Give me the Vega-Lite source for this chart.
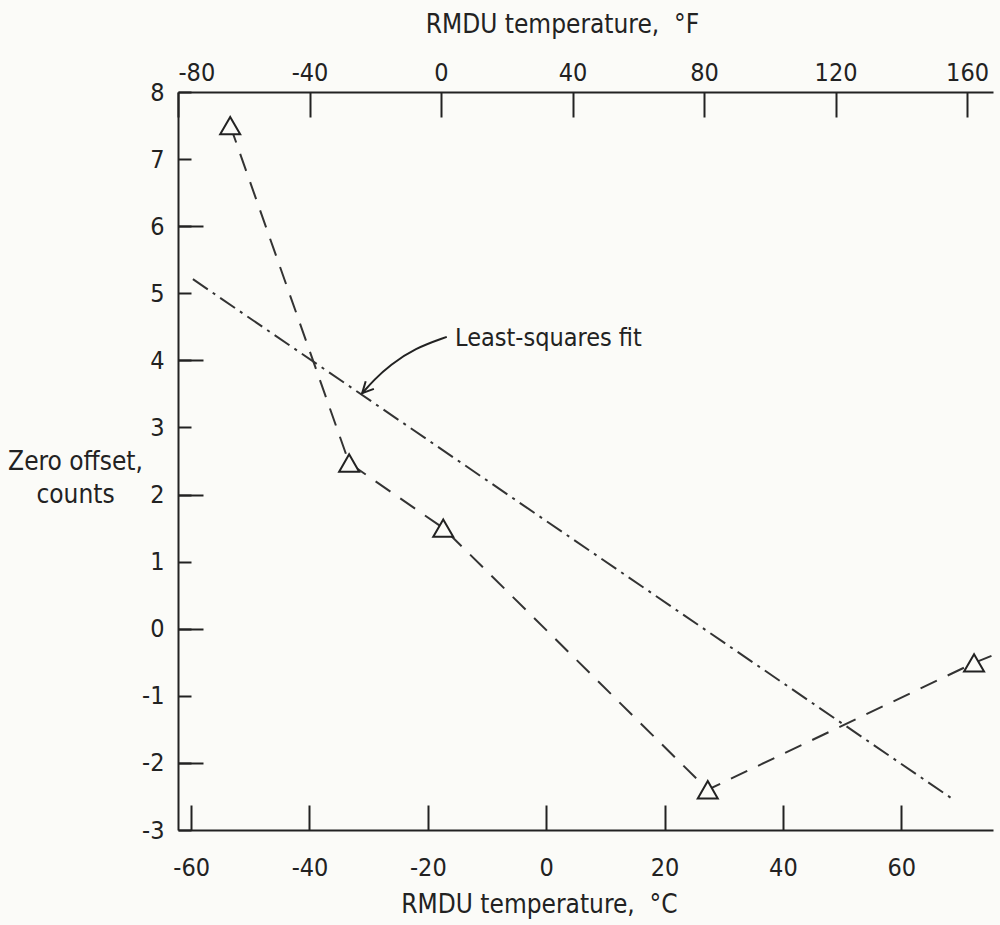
{
  "$schema": "https://vega.github.io/schema/vega-lite/v6.json",
  "width": 815,
  "height": 738,
  "autosize": {"type": "none"},
  "padding": {"left": 178, "top": 92, "right": 7, "bottom": 95},
  "background": "#fbfbf8",
  "config": {
    "view": {"stroke": null},
    "axis": {
      "grid": false,
      "domainColor": "#222",
      "domainWidth": 2,
      "tickColor": "#222",
      "tickWidth": 2,
      "labelFont": "DejaVu Sans Condensed, Liberation Sans Narrow, sans-serif",
      "labelFontSize": 25,
      "labelColor": "#222",
      "titleFont": "DejaVu Sans Condensed, Liberation Sans Narrow, sans-serif",
      "titleFontSize": 26,
      "titleColor": "#222",
      "titleFontWeight": "normal"
    }
  },
  "datasets": {
    "obs": [
      {"C": -53.4, "Z": 7.5},
      {"C": -33.3, "Z": 2.47},
      {"C": -17.4, "Z": 1.5},
      {"C": 27.3, "Z": -2.4},
      {"C": 72.3, "Z": -0.51}
    ],
    "obsline": [
      {"C": -53.4, "Z": 7.5},
      {"C": -33.3, "Z": 2.47},
      {"C": -17.4, "Z": 1.5},
      {"C": 27.3, "Z": -2.4},
      {"C": 72.3, "Z": -0.51},
      {"C": 75.4, "Z": -0.4}
    ],
    "fit": [
      {"C": -59.7, "Z": 5.21},
      {"C": 68.7, "Z": -2.54}
    ],
    "arrow": [
      {"C": -16.8, "Z": 4.35},
      {"C": -22.2, "Z": 4.18},
      {"C": -26.4, "Z": 3.93},
      {"C": -29.1, "Z": 3.71},
      {"C": -31.1, "Z": 3.51}
    ],
    "tip": [{"C": -31.1, "Z": 3.51}],
    "note": [{"C": -15.4, "Z": 4.33, "label": "Least-squares fit"}],
    "ftop": [{"F": -80, "Z": -3}, {"F": 160, "Z": 8}]
  },
  "layer": [
    {
      "layer": [
        {
          "data": {"name": "fit"},
          "mark": {"type": "line", "strokeDash": [18, 6, 3, 6], "color": "#333", "strokeWidth": 2},
          "encoding": {
            "x": {
              "field": "C", "type": "quantitative",
              "scale": {"domain": [-62.22, 75.5], "nice": false, "zero": false},
              "axis": {
                "orient": "bottom",
                "values": [-60, -40, -20, 0, 20, 40, 60],
                "tickSize": -25,
                "labelPadding": 50,
                "labelExpr": "'' + datum.value",
                "title": "RMDU temperature,\u00a0\u00a0°C",
                "titleX": 361,
                "titleY": 82,
                "titleAlign": "center",
                "titleBaseline": "alphabetic"
              }
            },
            "y": {
              "field": "Z", "type": "quantitative",
              "scale": {"domain": [-3, 8], "nice": false, "zero": false},
              "axis": {
                "orient": "left",
                "values": [-3, -2, -1, 0, 1, 2, 3, 4, 5, 6, 7, 8],
                "tickSize": -13,
                "labelPadding": 27,
                "labelExpr": "'' + datum.value",
                "title": ["Zero offset,", "counts"],
                "titleAngle": 0,
                "titleAlign": "center",
                "titleBaseline": "middle",
                "titleX": -103,
                "titleY": 369,
                "titleLineHeight": 33
              }
            }
          }
        },
        {
          "data": {"name": "obsline"},
          "mark": {"type": "line", "strokeDash": [18, 12], "color": "#333", "strokeWidth": 2},
          "encoding": {
            "x": {"field": "C", "type": "quantitative"},
            "y": {"field": "Z", "type": "quantitative"}
          }
        },
        {
          "data": {"name": "obs"},
          "mark": {"type": "point", "shape": "triangle-up", "size": 400, "fill": "#fbfbf8", "stroke": "#222", "strokeWidth": 2, "opacity": 1, "filled": true},
          "encoding": {
            "x": {"field": "C", "type": "quantitative"},
            "y": {"field": "Z", "type": "quantitative"}
          }
        },
        {
          "data": {"name": "arrow"},
          "mark": {"type": "line", "interpolate": "basis", "color": "#222", "strokeWidth": 2},
          "encoding": {
            "x": {"field": "C", "type": "quantitative"},
            "y": {"field": "Z", "type": "quantitative"}
          }
        },
        {
          "data": {"name": "tip"},
          "mark": {"type": "point", "shape": "M -0.5 -1 L 0 0 L 0.5 -1", "size": 500, "angle": 43, "filled": false, "stroke": "#222", "strokeWidth": 2, "opacity": 1},
          "encoding": {
            "x": {"field": "C", "type": "quantitative"},
            "y": {"field": "Z", "type": "quantitative"}
          }
        },
        {
          "data": {"name": "note"},
          "mark": {"type": "text", "align": "left", "baseline": "middle", "fontSize": 25, "font": "DejaVu Sans Condensed, Liberation Sans Narrow, sans-serif", "color": "#222"},
          "encoding": {
            "x": {"field": "C", "type": "quantitative"},
            "y": {"field": "Z", "type": "quantitative"},
            "text": {"field": "label"}
          }
        }
      ]
    },
    {
      "data": {"name": "ftop"},
      "mark": {"type": "point", "opacity": 0},
      "encoding": {
        "x": {
          "field": "F", "type": "quantitative",
          "scale": {"domain": [-80, 167.9], "nice": false, "zero": false},
          "axis": {
            "orient": "top",
            "values": [-80, -40, 0, 40, 80, 120, 160],
            "tickSize": -25,
            "labelPadding": 32,
            "labelExpr": "'' + datum.value",
            "title": "RMDU temperature,\u00a0\u00a0°F",
            "titleX": 384,
            "titleY": -60,
            "titleAlign": "center",
            "titleBaseline": "alphabetic"
          }
        },
        "y": {
          "field": "Z", "type": "quantitative",
          "scale": {"domain": [-3, 8], "nice": false, "zero": false},
          "axis": {
            "orient": "left",
            "values": [-2, 0, 2, 4, 6],
            "tickSize": -25,
            "labels": false,
            "domain": false,
            "title": null
          }
        }
      }
    }
  ],
  "resolve": {
    "scale": {"x": "independent"},
    "axis": {"x": "independent", "y": "independent"}
  }
}
